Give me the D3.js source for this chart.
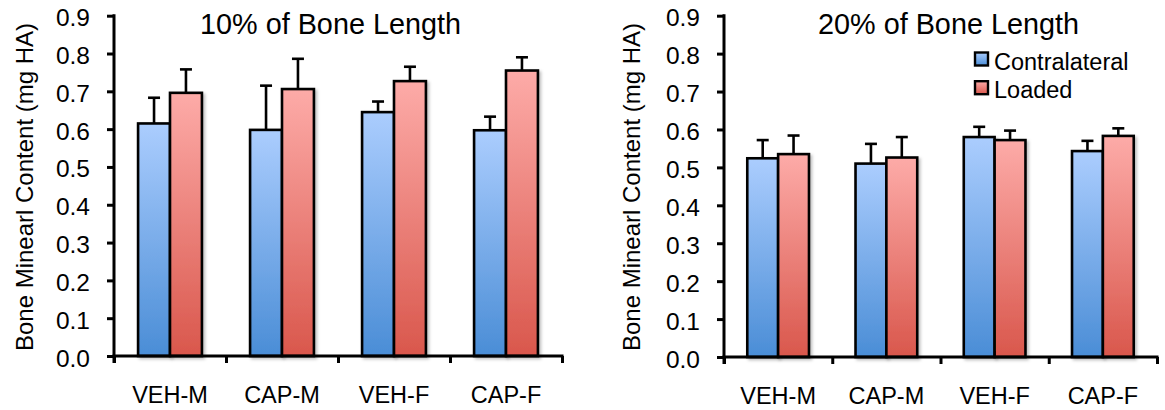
<!DOCTYPE html>
<html>
<head>
<meta charset="utf-8">
<script src="https://cdn.jsdelivr.net/npm/d3@7"></script>
<style>
  html, body { margin: 0; padding: 0; background: #fff; }
  svg { display: block; font-family: Arial, Helvetica, sans-serif; }
</style>
</head>
<body>
<svg id="chart" width="1165" height="410"></svg>
<script>
// ---- data ----
const categories = ["VEH-M", "CAP-M", "VEH-F", "CAP-F"];
const seriesNames = ["Contralateral", "Loaded"];
const yTicks = [0.0, 0.1, 0.2, 0.3, 0.4, 0.5, 0.6, 0.7, 0.8, 0.9];

const contralateral10 = [0.615, 0.598, 0.645, 0.597];
const contralateral10Err = [0.068, 0.117, 0.028, 0.036];
const loaded10 = [0.696, 0.706, 0.727, 0.755];
const loaded10Err = [0.062, 0.080, 0.038, 0.035];

const contralateral20 = [0.524, 0.510, 0.580, 0.543];
const contralateral20Err = [0.048, 0.052, 0.027, 0.027];
const loaded20 = [0.535, 0.526, 0.572, 0.583];
const loaded20Err = [0.049, 0.054, 0.025, 0.020];

const titles = ["10% of Bone Length", "20% of Bone Length"];
const yAxisTitle = "Bone Minearl Content (mg HA)";

// ---- drawing ----
const svg = d3.select("#chart");
const defs = svg.append("defs");
function grad(id, top, bottom) {
  const g = defs.append("linearGradient").attr("id", id)
    .attr("x1", 0).attr("y1", 0).attr("x2", 0).attr("y2", 1);
  g.append("stop").attr("offset", "0%").attr("stop-color", top);
  g.append("stop").attr("offset", "100%").attr("stop-color", bottom);
}
grad("gBlue", "#abcdfe", "#4a8dd6");
grad("gRed", "#fdaba8", "#d9574c");
const fills = ["url(#gBlue)", "url(#gRed)"];

const sh = defs.append("filter").attr("id", "shadow")
  .attr("x", "-20%").attr("y", "-20%").attr("width", "150%").attr("height", "150%");
sh.append("feDropShadow").attr("dx", 2).attr("dy", 2).attr("stdDeviation", 1.5)
  .attr("flood-color", "#000").attr("flood-opacity", 0.25);

const panels = [
  { title: titles[0], vals: [contralateral10, loaded10], errs: [contralateral10Err, loaded10Err],
    x0: 114, x1: 562, y0: 356, y9: 15.7, labelX: 33, titleX: 200, legend: false },
  { title: titles[1], vals: [contralateral20, loaded20], errs: [contralateral20Err, loaded20Err],
    x0: 724, x1: 1157, y0: 357, y9: 15.7, labelX: 640, titleX: 818, legend: true }
];

panels.forEach(p => {
  const g = svg.append("g");
  const y = d3.scaleLinear().domain([0, 0.9]).range([p.y0, p.y9]);
  const xb = d3.scaleBand().domain(categories).range([p.x0, p.x1]).paddingInner(0).paddingOuter(0);
  const xl = d3.scaleLinear().domain([0, categories.length]).range([p.x0, p.x1]);
  const barW = xb.bandwidth() * 0.285;

  // bars
  seriesNames.forEach((s, si) => {
    const vals = p.vals[si], errs = p.errs[si];
    const bx = c => xb(c) + xb.bandwidth() / 2 + (si - 1) * barW;
    // error bars
    const eg = g.append("g").attr("stroke", "#000").attr("stroke-width", 2.6);
    categories.forEach((c, i) => {
      const cx = bx(c) + barW / 2;
      eg.append("line").attr("x1", cx).attr("x2", cx)
        .attr("y1", y(vals[i])).attr("y2", y(vals[i] + errs[i]));
      eg.append("line").attr("x1", cx - 6).attr("x2", cx + 6)
        .attr("y1", y(vals[i] + errs[i])).attr("y2", y(vals[i] + errs[i]));
    });
    g.append("g").selectAll("rect").data(categories).join("rect")
      .attr("x", c => bx(c))
      .attr("y", (c, i) => y(vals[i]))
      .attr("width", barW)
      .attr("height", (c, i) => y(0) - y(vals[i]))
      .attr("fill", fills[si])
      .attr("stroke", "#000")
      .attr("stroke-width", 2.6)
      .attr("filter", "url(#shadow)");
  });

  // y axis
  const ya = g.append("g").attr("transform", `translate(${p.x0},0)`)
    .call(d3.axisLeft(y).tickValues(yTicks).tickFormat(d3.format(".1f")).tickSize(7).tickPadding(17));
  ya.attr("font-family", null);
  ya.select(".domain").attr("stroke-width", 3).attr("d", `M0,${p.y9 - 1.5}V${p.y0 + 7}`);
  ya.selectAll(".tick line").attr("stroke-width", 3);
  ya.selectAll(".tick text").attr("font-size", 24.5)
    .attr("fill", "#000").attr("dy", null).attr("y", 10);

  // x axis: boundary ticks
  const xa = g.append("g").attr("transform", `translate(0,${p.y0})`)
    .call(d3.axisBottom(xl).tickValues(d3.range(categories.length + 1)).tickFormat("").tickSize(7).tickSizeOuter(0));
  xa.select(".domain").attr("stroke-width", 3).attr("d", `M${p.x0 - 1.5},0H${p.x1 + 1.5}`);
  xa.selectAll(".tick line").attr("stroke-width", 3);

  // category labels
  const xc = g.append("g").attr("transform", `translate(0,${p.y0})`)
    .call(d3.axisBottom(xb).tickSize(0).tickPadding(0));
  xc.attr("font-family", null);
  xc.select(".domain").remove();
  xc.selectAll(".tick text").attr("font-size", 23.5)
    .attr("fill", "#000").attr("dy", null).attr("y", 47);

  // y axis title
  g.append("text")
    .attr("transform", `translate(${p.labelX},${187}) rotate(-90)`)
    .attr("text-anchor", "middle").attr("font-size", 24).attr("fill", "#000")
    .text(yAxisTitle);

  // title
  g.append("text").attr("x", p.titleX).attr("y", 33.5)
    .attr("font-size", 28.8).attr("fill", "#000").text(p.title);

  if (p.legend) {
    const lg = g.append("g");
    seriesNames.forEach((s, si) => {
      const ly = 52.5 + si * 28.7;
      lg.append("rect").attr("x", 975).attr("y", ly).attr("width", 13).attr("height", 13)
        .attr("fill", fills[si]).attr("stroke", "#000").attr("stroke-width", 2.4);
      lg.append("text").attr("x", 994).attr("y", ly + 17)
        .attr("font-size", 23.5).attr("fill", "#000").text(s);
    });
  }
});
</script>
</body>
</html>
